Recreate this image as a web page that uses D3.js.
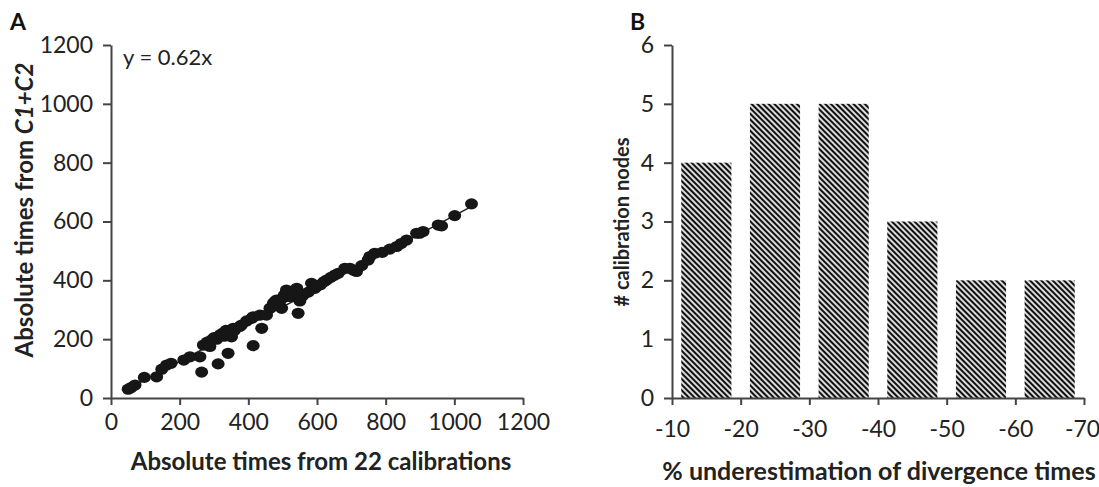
<!DOCTYPE html>
<html><head><meta charset="utf-8">
<script src="https://cdn.jsdelivr.net/npm/d3@7"></script>
<style>
body{margin:0;background:#fff;}
svg{display:block;font-family:Lato,"Open Sans",sans-serif;}
.axis path,.axis line{stroke:#444;stroke-width:2;}
.axis text{font-size:23px;fill:#222;font-family:Lato,sans-serif;}
</style></head><body>
<svg id="c" width="1099" height="487"></svg>
<script>
// Panel A data: [x = absolute time from 22 calibrations, y = absolute time from C1+C2]
const scatterPoints = [
[50,30],[58,35],[70,44],[97,70],[133,72],[148,98],[162,112],[175,118],[212,129],[230,140],
[259,140],[264,88],[269,180],[280,190],[288,175],[293,197],[300,205],[308,200],[312,116],[318,215],
[326,221],[330,210],[335,230],[341,221],[341,152],[345,225],[351,208],[356,237],[360,230],[375,243],
[380,248],[395,262],[410,271],[414,178],[414,276],[434,282],[439,237],[453,282],[463,305],[473,322],
[477,327],[482,333],[490,320],[497,305],[500,340],[505,350],[511,367],[520,345],[530,360],[531,345],
[541,373],[545,288],[550,330],[555,345],[560,350],[575,360],[584,390],[594,373],[600,380],[610,385],
[620,395],[628,401],[640,410],[652,418],[662,424],[681,441],[696,441],[705,435],[715,430],[730,450],
[749,469],[754,481],[768,492],[790,495],[812,506],[832,515],[845,525],[861,537],[890,560],[899,560],
[909,566],[953,588],[963,585],[1001,620],[1050,660]
];
const slope = 0.62;
const trendRange = [50, 1060];
const xTicksA = [0,200,400,600,800,1000,1200];
const yTicksA = [0,200,400,600,800,1000,1200];

// Panel B data
const binLabels = ["-10","-20","-30","-40","-50","-60","-70"];
const binCounts = [4,5,5,3,2,2];
const yTicksB = [0,1,2,3,4,5,6];

const svg = d3.select("#c");
const defs = svg.append("defs");
const pw = 4;
const pat = defs.append("pattern").attr("id","hatch").attr("patternUnits","userSpaceOnUse")
  .attr("width",pw).attr("height",10).attr("patternTransform","rotate(-45)");
pat.append("rect").attr("width",pw).attr("height",10).attr("fill","#fff");
pat.append("line").attr("x1",pw/2).attr("x2",pw/2).attr("y1",0).attr("y2",10)
  .attr("stroke","#111").attr("stroke-width",2.3);

// ---------- Panel A ----------
const xA = d3.scaleLinear().domain([0,1200]).range([111,523]);
const yA = d3.scaleLinear().domain([0,1200]).range([398,45]);

const gxA = svg.append("g").attr("class","axis").attr("transform",`translate(0,${yA(0)})`)
  .call(d3.axisBottom(xA).tickValues(xTicksA).tickFormat(d3.format("d")).tickSize(7).tickPadding(9).tickSizeOuter(0));
const gyA = svg.append("g").attr("class","axis").attr("transform",`translate(${xA(0)},0)`)
  .call(d3.axisLeft(yA).tickValues(yTicksA).tickFormat(d3.format("d")).tickSize(8).tickPadding(10).tickSizeOuter(0));

svg.append("line")
  .attr("x1",xA(trendRange[0])).attr("y1",yA(trendRange[0]*slope))
  .attr("x2",xA(trendRange[1])).attr("y2",yA(trendRange[1]*slope))
  .attr("stroke","#222").attr("stroke-width",1.5);

svg.append("g").selectAll("ellipse").data(scatterPoints).join("ellipse")
  .attr("cx",d=>xA(d[0])).attr("cy",d=>yA(d[1])).attr("rx",6.5).attr("ry",5.6)
  .attr("fill","#161616");

svg.append("text").attr("x",123).attr("y",65).attr("font-size",22).attr("fill","#222")
  .text("y = " + slope + "x");

svg.append("text").attr("x",321).attr("y",470).attr("text-anchor","middle")
  .attr("font-size",24).attr("font-weight","bold").attr("fill","#222")
  .text("Absolute times from 22 calibrations");

const ylabA = svg.append("text").attr("transform","translate(33,210) rotate(-90)")
  .attr("text-anchor","middle").attr("font-size",24).attr("font-weight","bold").attr("fill","#222");
ylabA.append("tspan").text("Absolute times from ");
ylabA.append("tspan").attr("font-style","italic").text("C1+C2");

svg.append("text").attr("x",10).attr("y",30).attr("font-size",23).attr("font-weight","bold")
  .attr("fill","#111").text("A");

// ---------- Panel B ----------
const xB = d3.scalePoint().domain(binLabels).range([672,1084]);
const yB = d3.scaleLinear().domain([0,6]).range([398,45]);
const step = xB.step();

const gxB = svg.append("g").attr("class","axis").attr("transform",`translate(0,${yB(0)})`)
  .call(d3.axisBottom(xB).tickSize(7).tickPadding(16).tickSizeOuter(0));
gxB.selectAll(".tick text").filter((d,i,n)=>i===n.length-1).attr("dx",-2);
const gyB = svg.append("g").attr("class","axis").attr("transform",`translate(${xB(binLabels[0])},0)`)
  .call(d3.axisLeft(yB).tickValues(yTicksB).tickFormat(d3.format("d")).tickSize(8).tickPadding(10).tickSizeOuter(0));

svg.append("g").selectAll("rect").data(binCounts).join("rect")
  .attr("x",(d,i)=>xB(binLabels[i]) + step*0.135)
  .attr("width",step*0.73)
  .attr("y",d=>yB(d)).attr("height",d=>yB(0)-yB(d))
  .attr("fill","url(#hatch)");
gxB.raise();

svg.append("text").attr("x",879).attr("y",480).attr("text-anchor","middle")
  .attr("font-size",25).attr("font-weight","bold").attr("fill","#222")
  .text("% underestimation of divergence times");

svg.append("text").attr("transform","translate(629,222) rotate(-90)")
  .attr("text-anchor","middle").attr("font-size",20).attr("font-weight","bold").attr("fill","#222")
  .text("# calibration nodes");

svg.append("text").attr("x",630).attr("y",30).attr("font-size",23).attr("font-weight","bold")
  .attr("fill","#111").text("B");
</script></body></html>
